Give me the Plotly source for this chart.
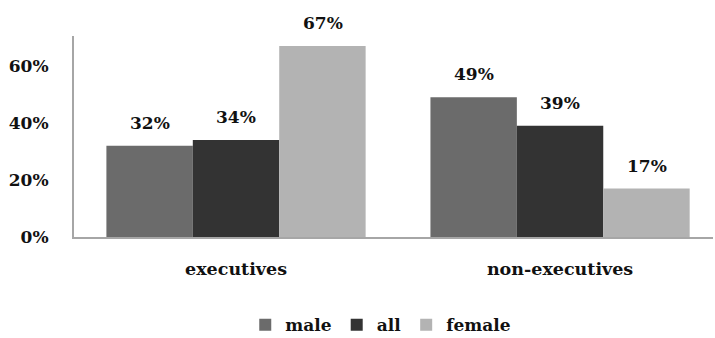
import plotly.graph_objects as go

categories = ["executives", "non-executives"]
series_names = ["male", "all", "female"]
male = [32, 49]
all_ = [34, 39]
female = [67, 17]
colors = ["#6b6b6b", "#333333", "#b3b3b3"]
ytick_vals = [0, 20, 40, 60]
ytick_text = ["0%", "20%", "40%", "60%"]

FONT = "DejaVu Serif"
fig = go.Figure()
for name, vals, col in zip(series_names, [male, all_, female], colors):
    fig.add_trace(go.Bar(
        x=categories, y=vals, name=f"<b>{name}</b>",
        marker=dict(color=col, line=dict(width=0)),
    ))

# value labels above each bar
offsets = [-1, 0, 1]
for off, vals in zip(offsets, [male, all_, female]):
    for i, v in enumerate(vals):
        fig.add_annotation(x=i, y=v, xref="x", yref="y", text=f"<b>{v}%</b>",
                           showarrow=False, yanchor="bottom", yshift=11,
                           xshift=off * 86.5,
                           font=dict(family=FONT, size=17, color="#111111"))

fig.update_layout(
    width=715, height=338, barmode="group", bargap=0.2, bargroupgap=0,
    margin=dict(l=74, r=2, t=36, b=101, autoexpand=False),
    plot_bgcolor="white", paper_bgcolor="white",
    font=dict(family=FONT, size=17, color="#111111"),
    legend=dict(orientation="h", x=0.268, y=0.038, yref="container",
                xanchor="left", yanchor="middle",
                font=dict(family=FONT, size=17, color="#111111"),
                itemwidth=30, tracegroupgap=0),
    xaxis=dict(range=[-0.5, 1.472], showgrid=False, showline=True, linecolor="#a6a6a6",
               linewidth=2, ticks="", automargin=False,
               tickvals=[0, 1], ticktext=[f"<b>{c}</b>" for c in categories],
               tickfont=dict(family=FONT, size=17.5),
               ticklabelstandoff=15),
    yaxis=dict(range=[0, 70.5], showgrid=False, showline=True, linecolor="#a6a6a6",
               linewidth=2, zeroline=False, tickvals=ytick_vals,
               ticktext=[f"<b>{t}</b>" for t in ytick_text], automargin=False,
               tickfont=dict(family=FONT, size=17), ticks="",
               ticklabelstandoff=20),
)
fig.write_html("out.html")
